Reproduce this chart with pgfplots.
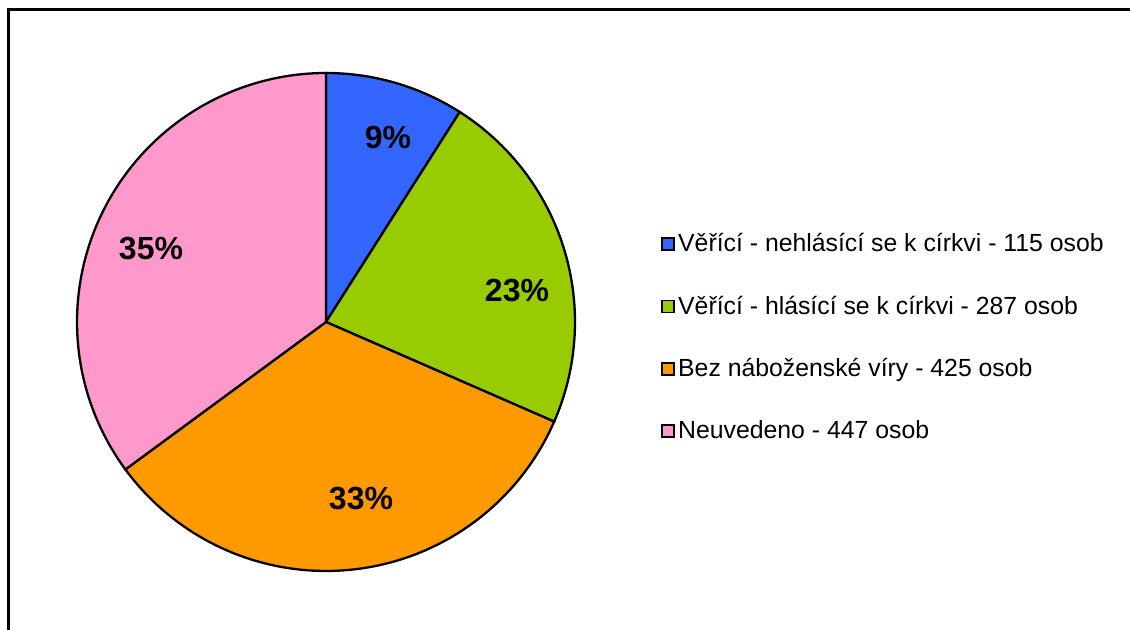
\documentclass[border=0pt]{standalone}
\usepackage{pgfplots}
\pgfplotsset{compat=1.18}
\usepackage{fontspec}
\setmainfont{Liberation Sans}

\definecolor{cBlue}{HTML}{3366FF}
\definecolor{cGreen}{HTML}{99CC00}
\definecolor{cOrange}{HTML}{FF9900}
\definecolor{cPink}{HTML}{FF99CC}

% counts (osob)
\def\vA{115}
\def\vB{287}
\def\vC{425}
\def\vD{447}
\pgfmathsetmacro\tot{\vA+\vB+\vC+\vD}
% wedge boundaries, clockwise from the top
\pgfmathsetmacro\aA{90}
\pgfmathsetmacro\aB{\aA-360*(\vA/\tot)}
\pgfmathsetmacro\aC{\aB-360*(\vB/\tot)}
\pgfmathsetmacro\aD{\aC-360*(\vC/\tot)}
\pgfmathsetmacro\aE{\aD-360*(\vD/\tot)}
\def\cx{326}
\def\cy{308}
\def\rr{249}

\begin{document}
\begin{tikzpicture}
\begin{axis}[
    scale only axis, width=565pt, height=315pt,
    xmin=0, xmax=1130, ymin=0, ymax=630,
    hide axis, clip=true,
    legend cell align=left,
    legend style={draw=none, fill=none, at={(axis cs:655,405)}, anchor=north west,
      font=\fontsize{12.4}{14}\selectfont, row sep=16.6pt,
      nodes={inner xsep=1.5pt}},
    legend image code/.code={\draw[#1, line width=0.9pt] (0pt,-3pt) rectangle (6pt,3pt);},
]
\addplot[fill=cBlue, draw=black, line width=1.15pt, domain=\aB:\aA, samples=40]
  ({\cx+\rr*cos(x)},{\cy+\rr*sin(x)}) -- (\cx,\cy) -- cycle;
\addlegendentry{Věřící - nehlásící se k církvi - 115 osob}
\addplot[fill=cGreen, draw=black, line width=1.15pt, domain=\aC:\aB, samples=60]
  ({\cx+\rr*cos(x)},{\cy+\rr*sin(x)}) -- (\cx,\cy) -- cycle;
\addlegendentry{Věřící - hlásící se k církvi - 287 osob}
\addplot[fill=cOrange, draw=black, line width=1.15pt, domain=\aD:\aC, samples=80]
  ({\cx+\rr*cos(x)},{\cy+\rr*sin(x)}) -- (\cx,\cy) -- cycle;
\addlegendentry{Bez náboženské víry - 425 osob}
\addplot[fill=cPink, draw=black, line width=1.15pt, domain=\aE:\aD, samples=80]
  ({\cx+\rr*cos(x)},{\cy+\rr*sin(x)}) -- (\cx,\cy) -- cycle;
\addlegendentry{Neuvedeno - 447 osob}
% outer frame
\addplot[black, line width=1.6pt, forget plot] coordinates {(8.5,-20) (8.5,620.5) (1160,620.5)};
\node[font=\fontsize{16}{18}\selectfont\bfseries] at (axis cs:388,493) {9\%};
\node[font=\fontsize{16}{18}\selectfont\bfseries] at (axis cs:517,339) {23\%};
\node[font=\fontsize{16}{18}\selectfont\bfseries] at (axis cs:361,131) {33\%};
\node[font=\fontsize{16}{18}\selectfont\bfseries] at (axis cs:151,381) {35\%};
\end{axis}
\pgfresetboundingbox
\path[use as bounding box] (current axis.south west) rectangle (current axis.north east);
\end{tikzpicture}
\end{document}
